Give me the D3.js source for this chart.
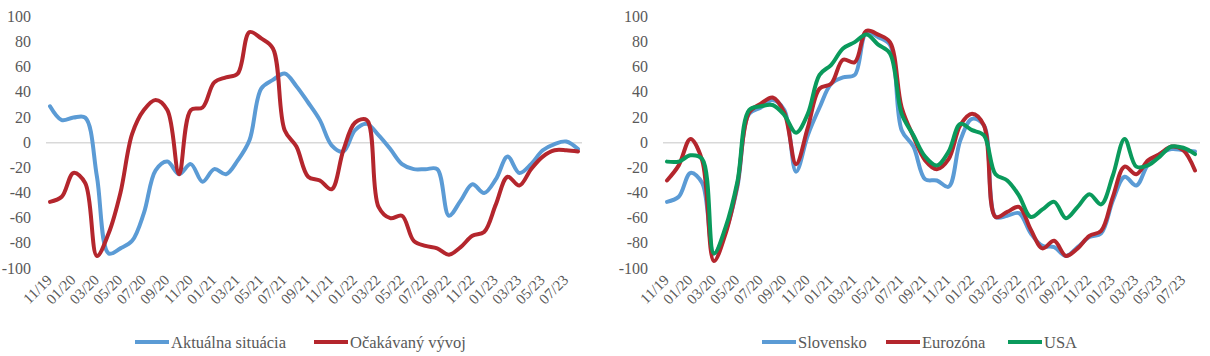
<!DOCTYPE html>
<html><head><meta charset="utf-8">
<script src="https://cdn.jsdelivr.net/npm/d3@7"></script>
<style>
body{margin:0;background:#fff;}
text{font-family:"Liberation Serif","DejaVu Serif",serif;fill:#595959;}
</style></head>
<body><svg id="c" width="1210" height="356"></svg>
<script>
const months = ["11/19","12/19","01/20","02/20","03/20","04/20","05/20","06/20","07/20","08/20","09/20","10/20","11/20","12/20",
"01/21","02/21","03/21","04/21","05/21","06/21","07/21","08/21","09/21","10/21","11/21","12/21",
"01/22","02/22","03/22","04/22","05/22","06/22","07/22","08/22","09/22","10/22","11/22","12/22",
"01/23","02/23","03/23","04/23","05/23","06/23","07/23","08/23"];
const yTicks = [-100,-80,-60,-40,-20,0,20,40,60,80,100];

const aktualna = [29,18,20,20,-27,-88,-84,-78,-56,-22,-15,-25,-17,-31,-21,-25,-14,2,43,50,55,45,32,18,-2,-7,10,15,6,-5,-17,-21,-21,-21,-58,-46,-33,-40,-29,-11,-24,-17,-6,-1,1,-5];
const ocakavany = [-47,-43,-24,-32,-90,-72,-40,7,26,34,26,-25,26,28,48,52,55,88,83,75,10,-3,-27,-30,-37,-6,16,18,-51,-60,-58,-78,-82,-84,-89,-83,-74,-71,-49,-27,-34,-21,-11,-6,-6,-7];

const slovensko = [-47,-43,-24,-32,-88,-70,-35,23,28,34,26,-23,6,28,47,52,54,88,84,78,10,-3,-29,-30,-35,2,19,14,-59,-58,-56,-72,-82,-83,-90,-83,-75,-72,-46,-27,-34,-17,-9,-5,-6,-7];
const eurozona = [-30,-18,3,-14,-94,-72,-33,24,31,36,24,-17,12,43,47,66,64,89,86,80,28,5,-14,-21,-13,14,23,14,-59,-55,-51,-69,-84,-78,-90,-84,-74,-70,-43,-19,-25,-14,-9,-3,-6,-22];
const usa = [-15,-15,-10,-13,-88,-67,-31,26,29,30,22,8,23,54,62,75,80,86,78,71,23,6,-11,-18,-7,15,10,6,-25,-30,-42,-59,-53,-47,-60,-51,-41,-49,-26,3,-19,-18,-11,-3,-4,-9];

const svg = d3.select("#c");
const y = d3.scaleLinear().domain([-100,100]).range([268.5,17]);

function panel(x0, x1, labelX, gx0, gx1, series, legend) {
  const x = d3.scaleLinear().domain([0, months.length-1]).range([x0, x1]);
  const g = svg.append("g");
  g.append("line").attr("x1",gx0).attr("x2",gx1).attr("y1",y(0)).attr("y2",y(0))
    .attr("stroke","#d9d9d9").attr("stroke-width",1.3);
  g.selectAll(".yl").data(yTicks).enter().append("text")
    .attr("x",labelX).attr("y",d=>y(d)+5).attr("text-anchor","end")
    .attr("font-size","16px").text(d=>d);
  months.forEach((m,i)=>{
    if(i%2!==0) return;
    const px = x(i)+3, py = 281;
    g.append("text").attr("transform",`translate(${px},${py}) rotate(-45)`)
      .attr("text-anchor","end").attr("font-size","15px").text(m);
  });
  const line = d3.line().x((d,i)=>x(i)).y(d=>y(d)).curve(d3.curveCatmullRom.alpha(0.5));
  series.forEach(s=>{
    g.append("path").attr("d",line(s.data)).attr("fill","none")
      .attr("stroke",s.color).attr("stroke-width",4).attr("stroke-linejoin","round").attr("stroke-linecap","round");
  });
  legend.forEach(l=>{
    g.append("line").attr("x1",l.x).attr("x2",l.x+34).attr("y1",342).attr("y2",342)
      .attr("stroke",l.color).attr("stroke-width",4);
    g.append("text").attr("x",l.x+36).attr("y",347.5).attr("font-size","16.5px").text(l.name);
  });
}

const BLUE="#5b9bd5", RED="#b4262d", GREEN="#0a9a5c";
panel(50, 578, 31, 46, 582,
  [{data:aktualna,color:BLUE},{data:ocakavany,color:RED}],
  [{x:135,color:BLUE,name:"Aktuálna situácia"},{x:314,color:RED,name:"Očakávaný vývoj"}]);
panel(667, 1195, 648, 663, 1200,
  [{data:slovensko,color:BLUE},{data:eurozona,color:RED},{data:usa,color:GREEN}],
  [{x:762,color:BLUE,name:"Slovensko"},{x:886,color:RED,name:"Eurozóna"},{x:1008,color:GREEN,name:"USA"}]);
</script></body></html>
